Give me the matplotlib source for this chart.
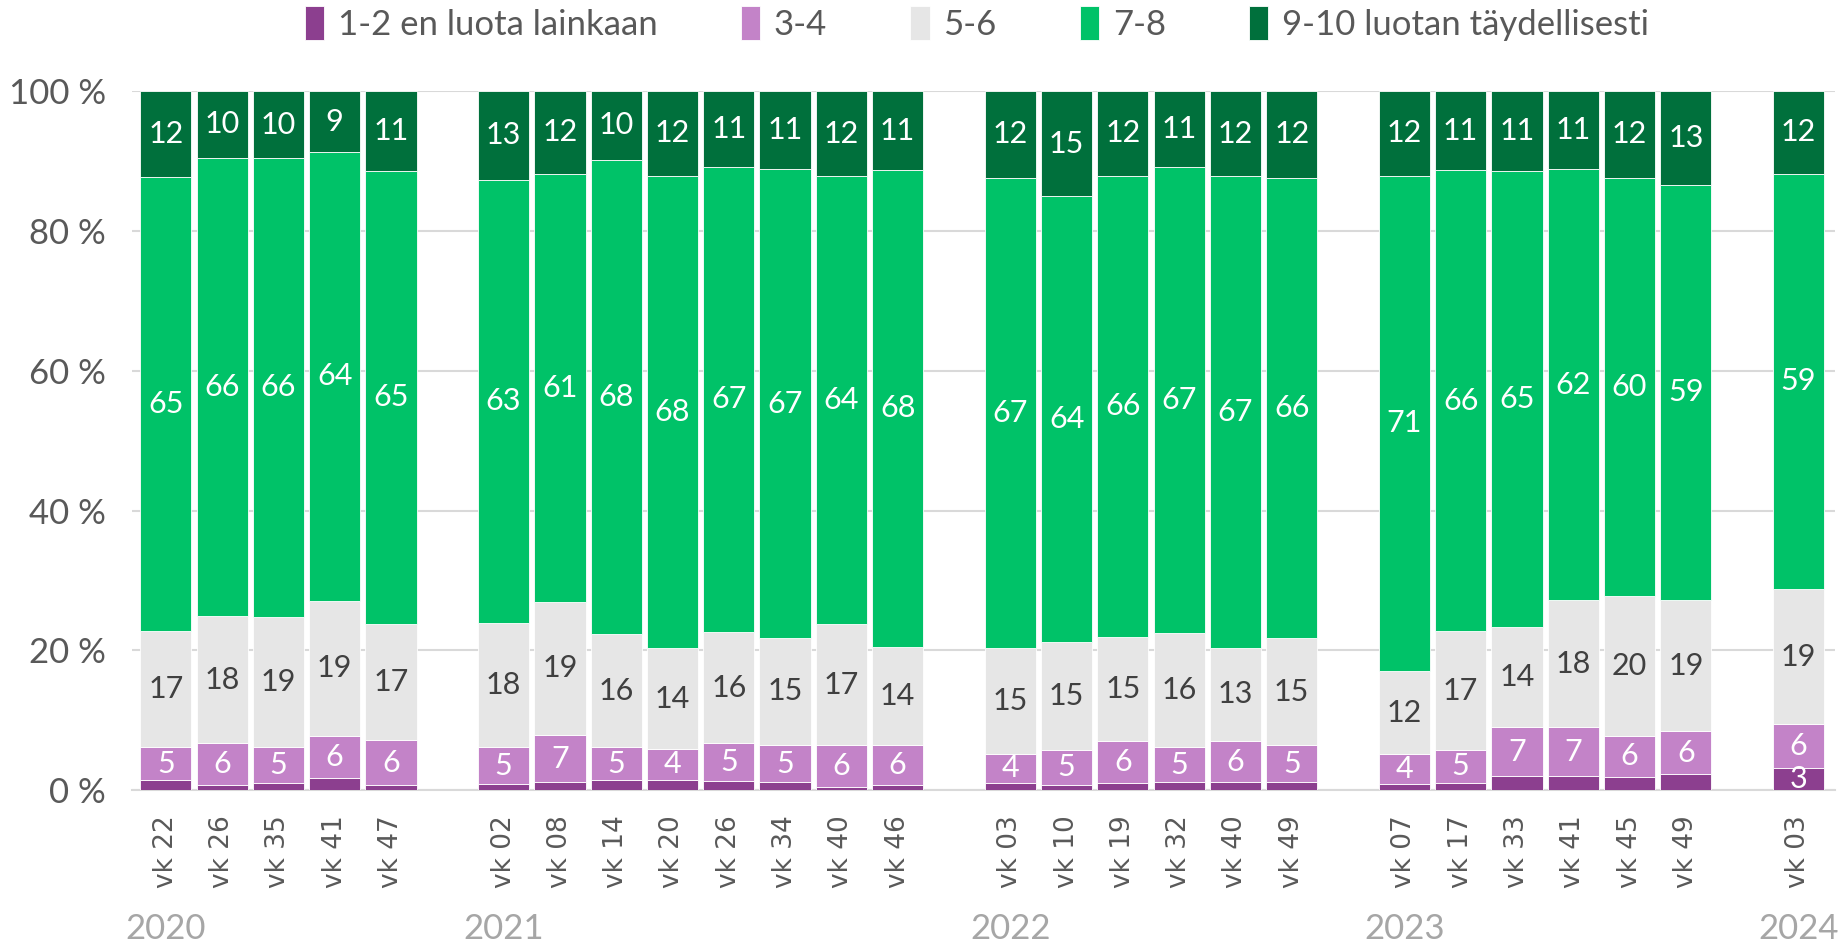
import numpy as np
import matplotlib
matplotlib.use("Agg")
from matplotlib import pyplot as plt

# data (percent)
years = ["2020", "2021", "2022", "2023", "2024"]
weeks = [
    ["vk 22", "vk 26", "vk 35", "vk 41", "vk 47"],
    ["vk 02", "vk 08", "vk 14", "vk 20", "vk 26", "vk 34", "vk 40", "vk 46"],
    ["vk 03", "vk 10", "vk 19", "vk 32", "vk 40", "vk 49"],
    ["vk 07", "vk 17", "vk 33", "vk 41", "vk 45", "vk 49"],
    ["vk 03"],
]

series = ["1-2 en luota lainkaan", "3-4", "5-6", "7-8", "9-10 luotan täydellisesti"]
colors = ["#8C3F8F", "#C383C8", "#E6E6E6", "#00C268", "#00703C"]
textcol = ["white", "white", "#404040", "white", "white"]

v12 = [1.4, 0.7, 1.0, 1.8, 0.7,
       0.9, 1.1, 1.5, 1.5, 1.3, 1.1, 0.4, 0.8,
       1.0, 0.8, 1.0, 1.2, 1.1, 1.1,
       0.9, 1.0, 2.0, 2.0, 1.9, 2.3,
       3.1]
v34 = [4.7, 6.0, 5.2, 5.9, 6.4,
       5.2, 6.8, 4.6, 4.4, 5.4, 5.4, 6.1, 5.6,
       4.2, 5.0, 6.0, 4.9, 5.9, 5.4,
       4.2, 4.8, 7.0, 7.0, 5.9, 6.1,
       6.3]
v56 = [16.7, 18.2, 18.6, 19.4, 16.7,
       17.8, 19.0, 16.2, 14.4, 15.9, 15.3, 17.2, 14.1,
       15.1, 15.4, 14.9, 16.4, 13.4, 15.2,
       11.9, 16.9, 14.4, 18.2, 19.9, 18.8,
       19.4]
v78 = [64.9, 65.6, 65.6, 64.2, 64.8,
       63.4, 61.3, 67.9, 67.6, 66.6, 67.0, 64.1, 68.2,
       67.3, 63.8, 66.0, 66.6, 67.4, 65.9,
       70.9, 66.0, 65.2, 61.6, 59.9, 59.4,
       59.4]
v910 = [12.3, 9.5, 9.6, 8.7, 11.4,
        12.7, 11.8, 9.8, 12.1, 10.8, 11.2, 12.2, 11.3,
        12.4, 15.0, 12.1, 10.9, 12.2, 12.4,
        12.1, 11.3, 11.4, 11.2, 12.4, 13.4,
        11.8]

values = [v12, v34, v56, v78, v910]

plt.rcParams["font.family"] = ["Lato", "DejaVu Sans"]

# x positions: one empty slot between years
xpos = []
labels = []
year_x = []
pos = 0
for yr, wk in zip(years, weeks):
    year_x.append(pos)
    for w in wk:
        xpos.append(pos)
        labels.append(w)
        pos += 1
    pos += 1
xpos = np.array(xpos)

fig = plt.figure(figsize=(18.47, 9.44), dpi=100)
ax = fig.add_axes([0.0715, 0.163, 0.922, 0.7405])

bottom = np.zeros(len(xpos))
for name, col, tc, vals in zip(series, colors, textcol, values):
    vals = np.array(vals)
    ax.bar(xpos, vals, width=0.91, bottom=bottom, color=col, edgecolor="white",
           linewidth=0.6, label=name, zorder=3)
    for x, b, v in zip(xpos, bottom, vals):
        if v >= 2.5:
            ax.text(x, b + v / 2, "%d" % round(v), ha="center", va="center",
                    color=tc, fontsize=22, zorder=4)
    bottom += vals

ax.set_ylim(0, 100)
ax.set_xlim(-0.6, pos - 1 - 0.35)
ax.set_yticks(range(0, 101, 20))
ax.set_yticklabels(["%d %%" % t for t in range(0, 101, 20)], fontsize=25, color="#595959")
ax.yaxis.grid(True, color="#D9D9D9", linewidth=1.5, zorder=0)
ax.tick_params(axis="both", length=0)
ax.tick_params(axis="y", pad=19)
for s in ["top", "right", "left"]:
    ax.spines[s].set_visible(False)
ax.spines["bottom"].set_color("#D9D9D9")
ax.spines["bottom"].set_linewidth(1.5)

ax.set_xticks(xpos)
ax.set_xticklabels(labels, rotation=90, fontsize=19, color="#595959",
                   family="DejaVu Sans")
ax.tick_params(axis="x", pad=18)

for yr, x in zip(years, year_x):
    ax.text(x, -19.9, yr, ha="center", va="center", fontsize=25, color="#A6A6A6")

fig.legend(loc="center", bbox_to_anchor=(0.529, 0.975), ncol=5, frameon=False,
           fontsize=25, handlelength=0.55, handleheight=1.1, handletextpad=0.4,
           columnspacing=2.4, labelcolor="#595959")

plt.savefig("out.png", dpi=100)
